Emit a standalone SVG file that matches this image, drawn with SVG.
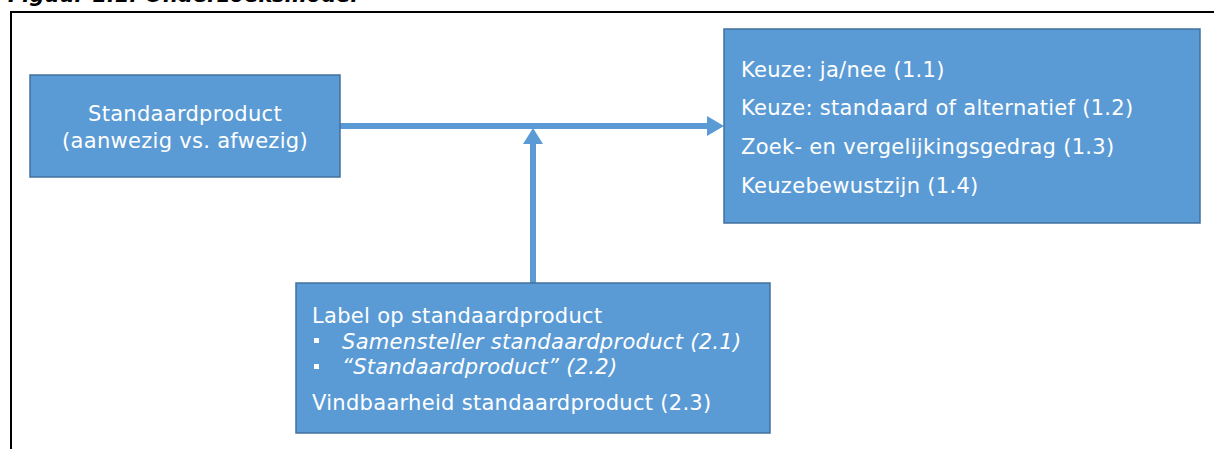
<svg xmlns="http://www.w3.org/2000/svg" width="1214" height="449" viewBox="0 0 1214 449">
<style>
.box{fill:#5B9BD5;stroke:#41719C;stroke-width:1.5}
.t{font-family:"DejaVu Sans",Verdana,sans-serif;font-size:21px;letter-spacing:0.3px;fill:#ffffff}
.i{font-style:italic}
.title{font-family:"DejaVu Sans",Verdana,sans-serif;font-size:21px;font-weight:bold;font-style:italic;fill:#000}
.conn{stroke:#5B9BD5;stroke-width:6;fill:none}
.head{fill:#5B9BD5}
</style>
<rect width="1214" height="449" fill="#ffffff"/>
<text class="title" x="8" y="2">Figuur 1.1: Onderzoeksmodel</text>
<path d="M11 449 V12 H1214" fill="none" stroke="#000" stroke-width="2"/>
<g id="connectors">
<line class="conn" x1="340" y1="126" x2="708" y2="126"/>
<polygon class="head" points="707,116 724,126 707,136"/>
<line class="conn" x1="533" y1="283" x2="533" y2="143"/>
<polygon class="head" points="523,144 533,128 543,144"/>
</g>
<g id="node-standaardproduct">
<rect class="box" x="30" y="75" width="310" height="102"/>
<text class="t" x="185" y="121" text-anchor="middle">Standaardproduct</text>
<text class="t" x="185" y="148" text-anchor="middle">(aanwezig vs. afwezig)</text>
</g>
<g id="node-keuze">
<rect class="box" x="724" y="29" width="476" height="194"/>
<text class="t" x="741" y="77">Keuze: ja/nee (1.1)</text>
<text class="t" x="741" y="115">Keuze: standaard of alternatief (1.2)</text>
<text class="t" x="741" y="154">Zoek- en vergelijkingsgedrag (1.3)</text>
<text class="t" x="741" y="193">Keuzebewustzijn (1.4)</text>
</g>
<g id="node-label">
<rect class="box" x="296" y="283" width="474" height="150"/>
<text class="t" x="312" y="323">Label op standaardproduct</text>
<rect x="314" y="338" width="5" height="5" fill="#ffffff"/>
<text class="t i" x="342" y="349">Samensteller standaardproduct (2.1)</text>
<rect x="314" y="364" width="5" height="5" fill="#ffffff"/>
<text class="t i" x="342" y="374">“Standaardproduct” (2.2)</text>
<text class="t" x="312" y="410">Vindbaarheid standaardproduct (2.3)</text>
</g>
</svg>
